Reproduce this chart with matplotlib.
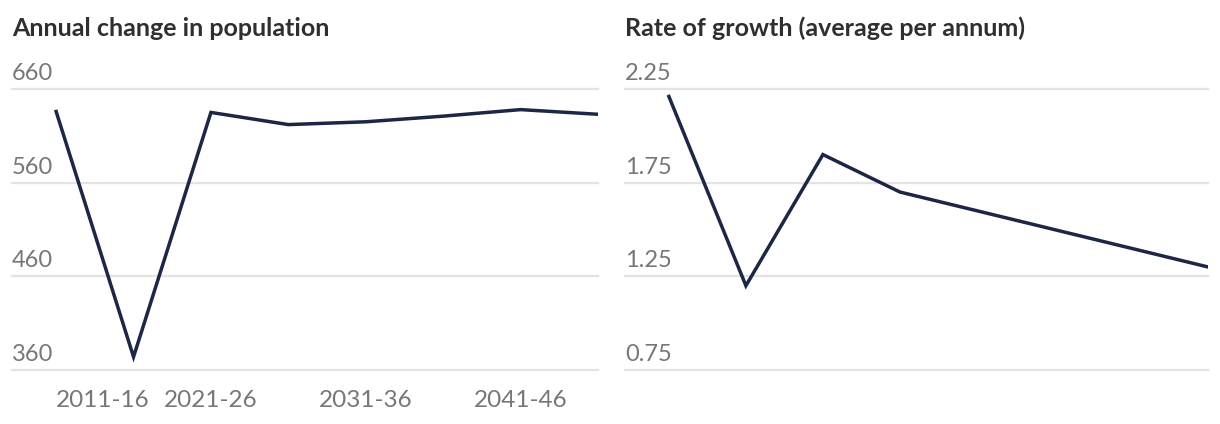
import matplotlib.pyplot as plt
from matplotlib import transforms

# -------- DATA --------
periods = ["2011-16", "2016-21", "2021-26", "2026-31",
           "2031-36", "2036-41", "2041-46", "2046-51"]
annual_change = [636, 374, 635, 622, 625, 631, 638, 633]
growth_rate = [2.21, 1.20, 1.90, 1.70, 1.60, 1.50, 1.40, 1.30]

left_ticks = [360, 460, 560, 660]
right_ticks = [0.75, 1.25, 1.75, 2.25]
shown_periods = ["2011-16", "2021-26", "2031-36", "2041-46"]

titles = ["Annual change in population", "Rate of growth (average per annum)"]

# -------- STYLE --------
plt.rcParams['font.family'] = ['Lato', 'DejaVu Sans']
line_col = "#1c2645"
grid_col = "#e3e3e3"
label_col = "#777777"
title_col = "#2f2f2f"

W, H = 1220, 424
fig = plt.figure(figsize=(W / 100, H / 100), dpi=100)

ax1 = fig.add_axes([12 / W, 1 - 370 / H, 586 / W, 281 / H])
ax2 = fig.add_axes([625 / W, 1 - 370 / H, 583 / W, 281 / H])

x = list(range(len(periods)))

for ax, vals, ticks, fmt in [(ax1, annual_change, left_ticks, "{:.0f}"),
                             (ax2, growth_rate, right_ticks, "{:.2f}")]:

    ax.plot(x, vals, color=line_col, lw=2.5, solid_joinstyle='miter', zorder=3)

    ax.set_xlim(-0.57, len(periods) - 1)
    ax.set_ylim(ticks[0], ticks[-1])

    trans = transforms.blended_transform_factory(ax.transAxes, ax.transData)
    for t in ticks:
        ax.axhline(t, color=grid_col, lw=1.6, clip_on=False, zorder=1)
        ax.annotate(fmt.format(t), xy=(0, t), xycoords=trans,
                    xytext=(0, 6.5), textcoords='offset points',
                    ha='left', va='baseline', fontsize=17, color=label_col)

    ax.set_xticks([])
    ax.set_yticks([])
    for s in ax.spines.values():
        s.set_visible(False)

# x labels, left panel only
xtrans = transforms.blended_transform_factory(ax1.transData, ax1.transAxes)
for i, lab in enumerate(shown_periods):
    pos = periods.index(lab)
    ax1.annotate(lab, xy=(pos, 0), xycoords=xtrans,
                 xytext=(0, -26.5), textcoords='offset points',
                 ha='left' if i == 0 else 'center', va='baseline',
                 fontsize=17.5, color=label_col)

# titles
fig.text(12 / W, 1 - 28 / H, titles[0], fontsize=18, fontweight='bold',
         color=title_col, ha='left', va='center')
fig.text(625 / W, 1 - 28 / H, titles[1], fontsize=18, fontweight='bold',
         color=title_col, ha='left', va='center')

plt.savefig("out.png", dpi=100)
